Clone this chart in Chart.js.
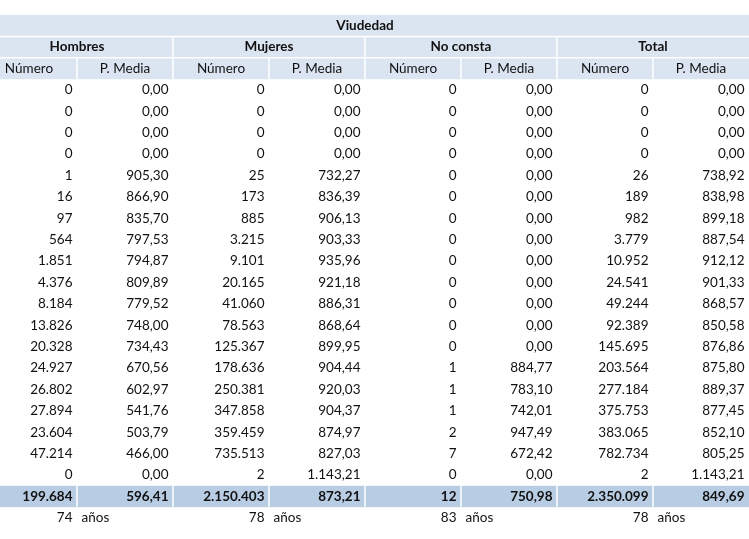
<!DOCTYPE html>
<html>
<head>
<meta charset="utf-8">
<script src="https://cdn.jsdelivr.net/npm/chart.js@4/dist/chart.umd.min.js"></script>
<style>
  body { margin: 0; background: #fff; }
  #wrap { width: 749px; height: 539px; }
</style>
</head>
<body>
<div id="wrap"><canvas id="tableChart"></canvas></div>
<script>
// Viudedad table data
const title = 'Viudedad';
const groups = ['Hombres', 'Mujeres', 'No consta', 'Total'];
const subHeaders = ['Número', 'P. Media'];

const hombresNum = [0, 0, 0, 0, 1, 16, 97, 564, 1851, 4376, 8184, 13826, 20328, 24927, 26802, 27894, 23604, 47214, 0];
const hombresPM = [0, 0, 0, 0, 905.30, 866.90, 835.70, 797.53, 794.87, 809.89, 779.52, 748.00, 734.43, 670.56, 602.97, 541.76, 503.79, 466.00, 0];
const mujeresNum = [0, 0, 0, 0, 25, 173, 885, 3215, 9101, 20165, 41060, 78563, 125367, 178636, 250381, 347858, 359459, 735513, 2];
const mujeresPM = [0, 0, 0, 0, 732.27, 836.39, 906.13, 903.33, 935.96, 921.18, 886.31, 868.64, 899.95, 904.44, 920.03, 904.37, 874.97, 827.03, 1143.21];
const noConstaNum = [0, 0, 0, 0, 0, 0, 0, 0, 0, 0, 0, 0, 0, 1, 1, 1, 2, 7, 0];
const noConstaPM = [0, 0, 0, 0, 0, 0, 0, 0, 0, 0, 0, 0, 0, 884.77, 783.10, 742.01, 947.49, 672.42, 0];
const totalNum = [0, 0, 0, 0, 26, 189, 982, 3779, 10952, 24541, 49244, 92389, 145695, 203564, 277184, 375753, 383065, 782734, 2];
const totalPM = [0, 0, 0, 0, 738.92, 838.98, 899.18, 887.54, 912.12, 901.33, 868.57, 850.58, 876.86, 875.80, 889.37, 877.45, 852.10, 805.25, 1143.21];

const sumNum = [199684, 2150403, 12, 2350099];
const sumPM = [596.41, 873.21, 750.98, 849.69];
const edadMedia = [74, 78, 83, 78];

const numCols = [hombresNum, mujeresNum, noConstaNum, totalNum];
const pmCols = [hombresPM, mujeresPM, noConstaPM, totalPM];

const lightBlue = '#dbe5f1';
const darkBlue = '#b8cce4';
const textColor = '#111';
const fontFamily = 'Lato, "Open Sans", sans-serif';

function fmtInt(n) {
    return String(Math.round(n)).replace(/\B(?=(\d{3})+(?!\d))/g, '.');
}

function fmtDec(n) {
    const parts = n.toFixed(2).split('.');
    return fmtInt(Number(parts[0])) + ',' + parts[1];
}

// draws the table cells using the chart's x (columns) and y (rows) scales
const tablePlugin = {
    id: 'tablePlugin',
    afterDraw(chart) {
        const ctx = chart.ctx;
        const xs = chart.scales.x;
        const ys = chart.scales.y;
        const px = v => xs.getPixelForValue(v);
        const py = v => ys.getPixelForValue(v);
        const nRows = hombresNum.length;
        const totalRow = 3 + nRows;
        const ageRow = totalRow + 1;

        ctx.save();

        // fills
        ctx.fillStyle = lightBlue;
        ctx.fillRect(px(0), py(0), px(8) - px(0), py(3) - py(0));
        ctx.fillStyle = darkBlue;
        ctx.fillRect(px(0), py(totalRow), px(8) - px(0), py(totalRow + 1) - py(totalRow));

        // white separators
        ctx.strokeStyle = '#ffffff';
        ctx.lineWidth = 1.5;
        ctx.beginPath();
        [1, 2].forEach(r => {
            ctx.moveTo(px(0), py(r));
            ctx.lineTo(px(8), py(r));
        });
        [2, 4, 6].forEach(c => {
            ctx.moveTo(px(c), py(1));
            ctx.lineTo(px(c), py(2));
        });
        for (let c = 1; c < 8; c++) {
            ctx.moveTo(px(c), py(2));
            ctx.lineTo(px(c), py(3));
            ctx.moveTo(px(c), py(totalRow));
            ctx.lineTo(px(c), py(totalRow + 1));
        }
        ctx.stroke();

        ctx.fillStyle = textColor;
        ctx.textBaseline = 'middle';
        const pad = 4.5;
        const mid = r => py(r + 0.5);

        // headers
        ctx.font = 'bold 13.5px ' + fontFamily;
        ctx.textAlign = 'center';
        ctx.fillText(title, (px(0) + px(8)) / 2, mid(0));
        groups.forEach((g, i) => {
            ctx.fillText(g, (px(2 * i) + px(2 * i + 2)) / 2, mid(1));
        });
        ctx.font = '13.5px ' + fontFamily;
        for (let c = 0; c < 8; c++) {
            ctx.fillText(subHeaders[c % 2], (px(c) + px(c + 1)) / 2, mid(2));
        }

        // body
        ctx.textAlign = 'right';
        for (let g = 0; g < 4; g++) {
            for (let r = 0; r < nRows; r++) {
                ctx.fillText(fmtInt(numCols[g][r]), px(2 * g + 1) - pad, mid(3 + r));
                ctx.fillText(fmtDec(pmCols[g][r]), px(2 * g + 2) - pad, mid(3 + r));
            }
        }

        // totals
        ctx.font = 'bold 13.5px ' + fontFamily;
        for (let g = 0; g < 4; g++) {
            ctx.fillText(fmtInt(sumNum[g]), px(2 * g + 1) - pad, mid(totalRow));
            ctx.fillText(fmtDec(sumPM[g]), px(2 * g + 2) - pad, mid(totalRow));
        }

        // average age
        ctx.font = '13.5px ' + fontFamily;
        for (let g = 0; g < 4; g++) {
            ctx.textAlign = 'right';
            ctx.fillText(String(edadMedia[g]), px(2 * g + 1) - pad, mid(ageRow));
            ctx.textAlign = 'left';
            ctx.fillText('años', px(2 * g + 1) + pad, mid(ageRow));
        }

        ctx.restore();
    }
};

const ctx = document.getElementById('tableChart').getContext('2d');
new Chart(ctx, {
    type: 'scatter',
    data: { datasets: [] },
    options: {
        responsive: true,
        maintainAspectRatio: false,
        animation: false,
        layout: { padding: 0 },
        plugins: {
            legend: { display: false },
            tooltip: { enabled: false }
        },
        scales: {
            x: { type: 'linear', display: false, min: 0.198, max: 8 },
            y: { type: 'linear', display: false, reverse: true, min: -0.701, max: 24.486 }
        }
    },
    plugins: [tablePlugin]
});
</script>
</body>
</html>
